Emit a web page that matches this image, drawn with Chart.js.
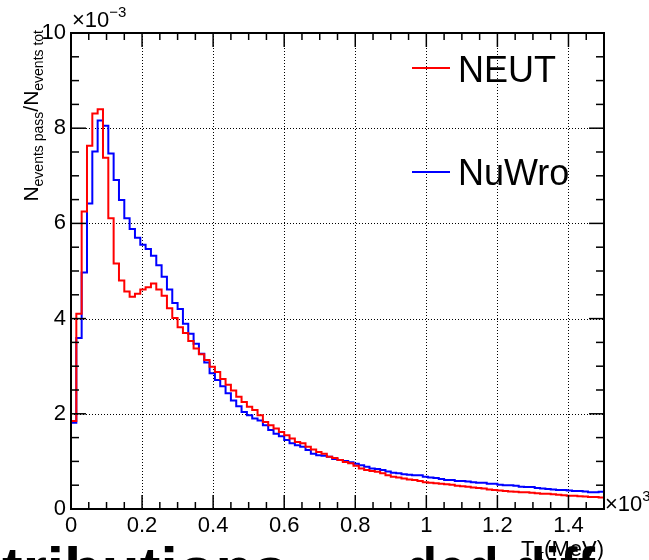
<!DOCTYPE html>
<html>
<head>
<meta charset="utf-8">
<script src="https://cdn.jsdelivr.net/npm/chart.js@4.4.0/dist/chart.umd.min.js"></script>
<style>
  body { margin: 0; background: #fff; }
  #wrap { width: 649px; height: 560px; }
</style>
</head>
<body>
<div id="wrap"><canvas id="myChart" width="649" height="560"></canvas></div>
<script>
// T_pi in units of 10^3 MeV, 100 bins of 15 MeV
const binWidth = 0.015;
const xTicks = [0, 0.2, 0.4, 0.6, 0.8, 1, 1.2, 1.4];
const yTicks = [0, 2, 4, 6, 8, 10];

// N_events pass / N_events tot, units of 10^-3
const neut = [
  1.85, 4.10, 6.25, 7.63, 8.31, 8.40, 7.38, 6.11, 5.16, 4.80,
  4.57, 4.46, 4.52, 4.61, 4.66, 4.74, 4.61, 4.48, 4.22, 4.01,
  3.82, 3.70, 3.53, 3.37, 3.25, 3.13, 2.99, 2.88, 2.73, 2.61,
  2.49, 2.36, 2.25, 2.15, 2.08, 1.97, 1.83, 1.76, 1.69, 1.62,
  1.55, 1.48, 1.41, 1.38, 1.31, 1.25, 1.20, 1.16, 1.10, 1.07,
  1.03, 0.99, 0.96, 0.91, 0.85, 0.82, 0.80, 0.78, 0.75, 0.71,
  0.68, 0.66, 0.64, 0.62, 0.61, 0.59, 0.56, 0.55, 0.54, 0.53,
  0.52, 0.51, 0.49, 0.48, 0.47, 0.45, 0.44, 0.43, 0.41, 0.40,
  0.39, 0.38, 0.37, 0.36, 0.35, 0.35, 0.34, 0.33, 0.32, 0.32,
  0.31, 0.30, 0.29, 0.28, 0.28, 0.27, 0.26, 0.25, 0.25, 0.24
];
const nuwro = [
  1.81, 3.59, 4.97, 6.42, 7.51, 8.16, 8.05, 7.47, 6.91, 6.49,
  6.11, 5.88, 5.70, 5.55, 5.46, 5.32, 5.12, 4.88, 4.61, 4.33,
  4.20, 3.89, 3.68, 3.47, 3.26, 3.08, 2.85, 2.71, 2.58, 2.43,
  2.28, 2.16, 2.04, 1.97, 1.90, 1.86, 1.76, 1.66, 1.58, 1.53,
  1.45, 1.38, 1.34, 1.31, 1.24, 1.16, 1.13, 1.12, 1.10, 1.05,
  1.03, 1.01, 0.98, 0.95, 0.92, 0.89, 0.85, 0.84, 0.82, 0.79,
  0.76, 0.75, 0.73, 0.72, 0.71, 0.71, 0.68, 0.66, 0.65, 0.63,
  0.61, 0.61, 0.59, 0.59, 0.58, 0.56, 0.55, 0.55, 0.53, 0.53,
  0.51, 0.50, 0.50, 0.49, 0.47, 0.46, 0.46, 0.44, 0.43, 0.42,
  0.41, 0.40, 0.40, 0.39, 0.38, 0.38, 0.37, 0.35, 0.35, 0.36
];

const FONT = '"Liberation Sans", Arial, Helvetica, sans-serif';

// bin contents -> step points (start from zero like ROOT draws it)
function histPoints(vals) {
  const pts = [{ x: 0, y: 0 }];
  vals.forEach((v, i) => pts.push({ x: i * binWidth, y: v }));
  pts.push({ x: vals.length * binWidth, y: vals[vals.length - 1] });
  return pts;
}

function seg(ctx, x1, y1, x2, y2) {
  ctx.beginPath();
  ctx.moveTo(x1, y1);
  ctx.lineTo(x2, y2);
  ctx.stroke();
}

// text with subscript / superscript parts: [[text, size, shift]]
function richText(ctx, parts, x, y) {
  let cx = x;
  parts.forEach(([t, size, dy]) => {
    ctx.font = size + 'px ' + FONT;
    ctx.fillText(t, cx, y + dy);
    cx += ctx.measureText(t).width;
  });
  return cx - x;
}
function richWidth(ctx, parts) {
  let w = 0;
  parts.forEach(([t, size]) => {
    ctx.font = size + 'px ' + FONT;
    w += ctx.measureText(t).width;
  });
  return w;
}

const rootStyle = {
  id: 'rootStyle',
  beforeDatasetsDraw(chart) {
    const { ctx, chartArea: a, scales: { x, y } } = chart;
    ctx.save();
    ctx.strokeStyle = '#000';
    ctx.lineWidth = 1;
    ctx.setLineDash([1, 2]);
    xTicks.forEach(v => {
      if (v <= 0) return;
      const px = Math.round(x.getPixelForValue(v)) + 0.5;
      seg(ctx, px, a.top, px, a.bottom);
    });
    yTicks.forEach(v => {
      if (v <= 0 || v >= 10) return;
      const py = Math.round(y.getPixelForValue(v)) + 0.5;
      seg(ctx, a.left, py, a.right, py);
    });
    ctx.restore();
  },
  afterDraw(chart) {
    const { ctx, chartArea: a, scales: { x, y } } = chart;
    ctx.save();
    ctx.strokeStyle = '#000';
    ctx.fillStyle = '#000';

    // inward ticks on all four sides
    ctx.lineWidth = 1.5;
    for (let k = 0; k <= 30; k++) {
      const px = x.getPixelForValue(k * 0.05);
      const len = k % 4 === 0 ? 14 : 7;
      seg(ctx, px, a.bottom, px, a.bottom - len);
      seg(ctx, px, a.top, px, a.top + len);
    }
    for (let k = 0; k <= 20; k++) {
      const py = y.getPixelForValue(k * 0.5);
      const len = k % 4 === 0 ? 15 : 8;
      seg(ctx, a.left, py, a.left + len, py);
      seg(ctx, a.right, py, a.right - len, py);
    }
    ctx.lineWidth = 2;
    ctx.strokeRect(a.left, a.top, a.right - a.left, a.bottom - a.top);

    // exponents
    ctx.textBaseline = 'alphabetic';
    ctx.textAlign = 'left';
    richText(ctx, [['\u00d710', 22, 0], ['\u22123', 15, -10]], a.left + 1, 27);
    richText(ctx, [['\u00d710', 22, 0], ['3', 15, -10]], a.right + 1, 511);

    // y title, rotated
    const yParts = [['N', 21, 0], ['events pass', 14, 5], ['/N', 21, 0], ['events tot', 14, 5]];
    const yw = richWidth(ctx, yParts);
    ctx.save();
    ctx.translate(38, 30 + yw);
    ctx.rotate(-Math.PI / 2);
    richText(ctx, yParts, 0, 0);
    ctx.restore();

    // big cut-off text from the page below
    ctx.font = 'bold 62px ' + FONT;
    ctx.fillText('tributions', 2, 590);
    ctx.fillText('ded diff', 405, 590, 190);

    // x title
    const xParts = [['T', 22, 0], ['\u03c0', 14, 4], ['(MeV)', 22, 0]];
    const xw = richWidth(ctx, xParts);
    richText(ctx, xParts, a.right - xw, 556);

    // legend
    const items = [[chart.data.datasets[0], 68, 82], [chart.data.datasets[1], 172, 185]];
    items.forEach(([ds, ly, ty]) => {
      ctx.strokeStyle = ds.borderColor;
      ctx.lineWidth = 2;
      seg(ctx, 412, ly, 450, ly);
      ctx.fillStyle = '#000';
      ctx.font = '36px ' + FONT;
      ctx.fillText(ds.label, 458, ty);
    });
    ctx.restore();
  }
};

new Chart(document.getElementById('myChart'), {
  type: 'line',
  data: {
    datasets: [
      {
        label: 'NEUT',
        data: histPoints(neut),
        borderColor: '#ff0000',
        borderWidth: 2,
        stepped: 'before',
        pointRadius: 0,
        fill: false
      },
      {
        label: 'NuWro',
        data: histPoints(nuwro),
        borderColor: '#0000ff',
        borderWidth: 2,
        stepped: 'before',
        pointRadius: 0,
        fill: false
      }
    ]
  },
  options: {
    responsive: false,
    animation: false,
    layout: { padding: { top: 33, right: 45, left: 0, bottom: 0 } },
    plugins: { legend: { display: false }, tooltip: { enabled: false } },
    scales: {
      x: {
        type: 'linear',
        min: 0,
        max: 1.5,
        grid: { display: false, drawTicks: false },
        border: { display: false },
        afterBuildTicks: s => { s.ticks = xTicks.map(v => ({ value: v })); },
        afterFit: s => { s.height = 51; },
        ticks: {
          padding: 4,
          maxRotation: 0,
          color: '#000',
          font: { family: FONT, size: 22 },
          callback: v => String(v)
        }
      },
      y: {
        min: 0,
        max: 10,
        grid: { display: false, drawTicks: false },
        border: { display: false },
        afterBuildTicks: s => { s.ticks = yTicks.map(v => ({ value: v })); },
        afterFit: s => { s.width = 71; },
        ticks: {
          padding: 5,
          color: '#000',
          font: { family: FONT, size: 22 },
          callback: v => String(v)
        }
      }
    }
  },
  plugins: [rootStyle]
});
</script>
</body>
</html>
